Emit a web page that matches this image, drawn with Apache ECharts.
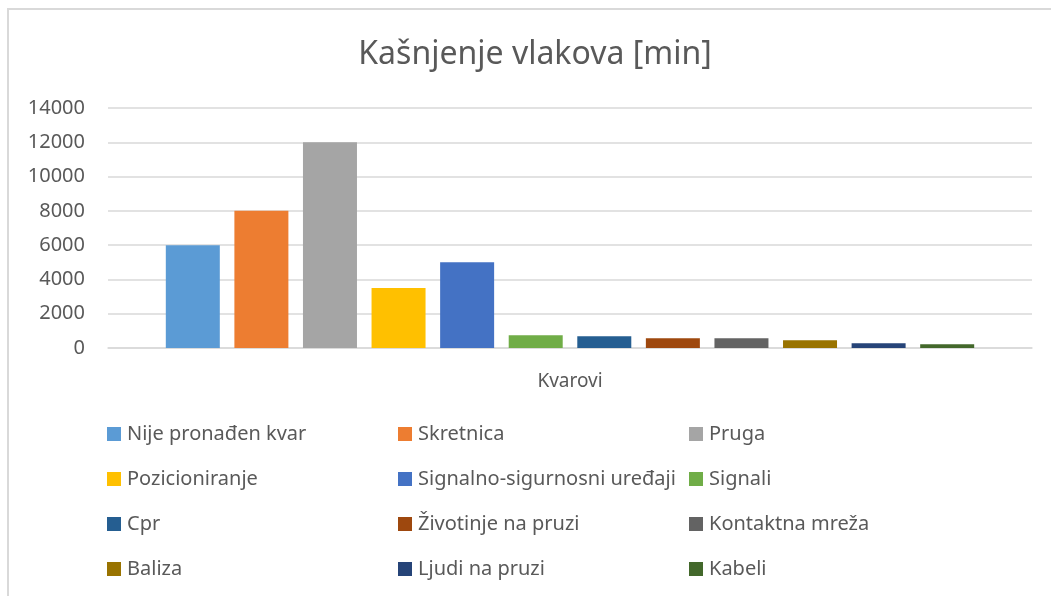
<!DOCTYPE html>
<html>
<head>
<meta charset="utf-8">
<script src="https://cdn.jsdelivr.net/npm/echarts@6/dist/echarts.min.js"></script>
<style>
  html, body { margin: 0; padding: 0; background: #fff; }
  #chart { width: 1051px; height: 596px; }
</style>
</head>
<body>
<div id="chart"></div>
<script>
// data
const categories = ['Kvarovi'];
const seriesNames = [
  'Nije pronađen kvar', 'Skretnica', 'Pruga',
  'Pozicioniranje', 'Signalno-sigurnosni uređaji', 'Signali',
  'Cpr', 'Životinje na pruzi', 'Kontaktna mreža',
  'Baliza', 'Ljudi na pruzi', 'Kabeli'
];
const seriesValues = [6000, 8000, 12000, 3500, 5000, 740, 680, 570, 570, 450, 280, 220];
const yTicks = [0, 2000, 4000, 6000, 8000, 10000, 12000, 14000];

const colors = ['#5B9BD5', '#ED7D31', '#A5A5A5', '#FFC000', '#4472C4', '#70AD47',
                '#255E91', '#9E480E', '#636363', '#997300', '#264478', '#43682B'];
const font = 'Noto Sans';
const textColor = '#595959';

const chart = echarts.init(document.getElementById('chart'));

// legend laid out in 3 columns, row by row like the original
const legendCols = [0, 1, 2].map(c => seriesNames.filter((_, i) => i % 3 === c));
const legendLefts = [107, 398, 689];

const option = {
  animation: false,
  color: colors,
  title: {
    text: 'Kašnjenje vlakova [min]',
    left: 530,
    textAlign: 'center',
    top: 34,
    textStyle: { fontFamily: font, fontSize: 32, fontWeight: 'normal', color: textColor }
  },
  graphic: [{
    type: 'rect',
    shape: { x: 8, y: 9, width: 1100, height: 700 },
    style: { fill: 'none', stroke: '#d9d9d9', lineWidth: 2 },
    silent: true
  }],
  legend: legendCols.map((names, c) => ({
    orient: 'vertical',
    left: legendLefts[c],
    top: 423,
    padding: 0,
    itemWidth: 14,
    itemHeight: 14,
    itemGap: 23,
    icon: 'rect',
    data: names,
    textStyle: { fontFamily: font, fontSize: 20, color: textColor, lineHeight: 22, padding: [0, 0, 0, 1] }
  })),
  grid: { left: 108, right: 19, top: 108, bottom: 248 },
  xAxis: {
    type: 'category',
    data: categories,
    name: 'Kvarovi',
    nameLocation: 'middle',
    nameGap: 24,
    nameTextStyle: { fontFamily: font, fontSize: 19, color: textColor, verticalAlign: 'top' },
    axisLine: { lineStyle: { color: '#d9d9d9', width: 1.5 } },
    axisTick: { show: false },
    axisLabel: { show: false }
  },
  yAxis: {
    type: 'value',
    min: yTicks[0],
    max: yTicks[yTicks.length - 1],
    interval: yTicks[1] - yTicks[0],
    axisLine: { show: false },
    axisTick: { show: false },
    axisLabel: { fontFamily: font, fontSize: 20, color: textColor, margin: 23, formatter: v => String(v) },
    splitLine: { lineStyle: { color: '#d9d9d9', width: 1.5 } }
  },
  series: seriesNames.map((name, i) => ({
    name: name,
    type: 'bar',
    data: [seriesValues[i]],
    barWidth: 54,
    barGap: '27%'
  }))
};

chart.setOption(option);
</script>
</body>
</html>
